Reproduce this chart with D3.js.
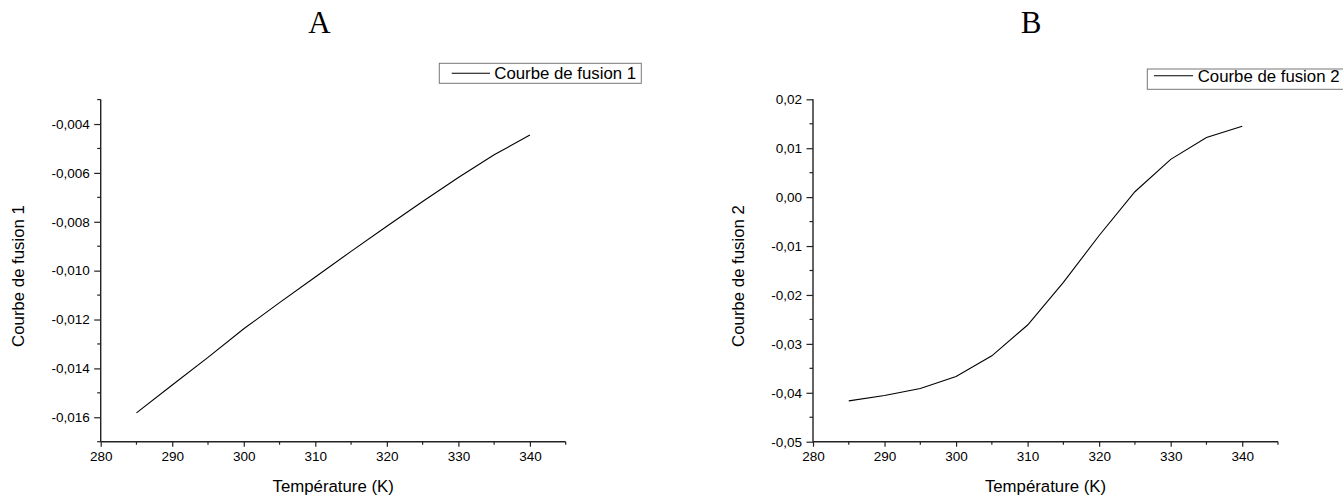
<!DOCTYPE html>
<html>
<head>
<meta charset="utf-8">
<script src="https://cdn.jsdelivr.net/npm/d3@7"></script>
<style>
  html, body { margin: 0; padding: 0; background: #fff; }
  svg { display: block; }
  text { font-family: "Liberation Sans", Arial, sans-serif; fill: #000; }
</style>
</head>
<body>
<svg id="chart" width="1343" height="495"></svg>
<script>
// ---- Data ----
const temperatures = [285, 290, 295, 300, 305, 310, 315, 320, 325, 330, 335, 340];
const courbe1 = [-0.01582, -0.01468, -0.01355, -0.01238, -0.01131, -0.01026, -0.00921, -0.00818, -0.00717, -0.00619, -0.00526, -0.00445];
const courbe2 = [-0.04166, -0.04057, -0.03913, -0.03668, -0.03244, -0.02615, -0.01742, -0.00785, 0.0011, 0.00772, 0.01217, 0.01449];
const xTicks = [280, 290, 300, 310, 320, 330, 340];
const yTicks1 = [-0.016, -0.014, -0.012, -0.010, -0.008, -0.006, -0.004];
const yTicks2 = [-0.05, -0.04, -0.03, -0.02, -0.01, 0.00, 0.01, 0.02];
const panelTitles = ["A", "B"];
const seriesNames = ["Courbe de fusion 1", "Courbe de fusion 2"];
const xTitle = "Température (K)";

const svg = d3.select("#chart");
const axisColor = "#222";

function fmt(decimals) {
  return v => {
    const s = Math.abs(v).toFixed(decimals).replace(".", ",");
    return (v < -1e-12 ? "-" : "") + s;
  };
}

const panels = [
  {
    title: panelTitles[0], titleX: 319.5,
    x0: 100.7, x1: 565.7, yTop: 99.6, yBot: 441.7,
    yDomain: [-0.017, -0.003], yTicks: yTicks1, yMinorStep: 0.001, yFmt: fmt(3),
    values: courbe1, name: seriesNames[0], yTitleX: 18.3,
    legend: { x: 439.3, y: 63.3, w: 202, h: 20, lx0: 451.7, lx1: 490, ly: 73.3, tx: 494.3, ty: 78.6 }
  },
  {
    title: panelTitles[1], titleX: 1031,
    x0: 813.0, x1: 1278.0, yTop: 99.3, yBot: 441.7,
    yDomain: [-0.05, 0.02], yTicks: yTicks2, yMinorStep: 0.005, yFmt: fmt(2),
    values: courbe2, name: seriesNames[1], yTitleX: 738.3,
    legend: { x: 1147.3, y: 69, w: 205, h: 20.3, lx0: 1154, lx1: 1193, ly: 75.7, tx: 1197.7, ty: 81.5 }
  }
];

panels.forEach(p => {
  const g = svg.append("g");
  const x = d3.scaleLinear().domain([280, 345]).range([p.x0, p.x1]);
  const y = d3.scaleLinear().domain(p.yDomain).range([p.yBot, p.yTop]);

  // Title
  g.append("text")
    .attr("x", p.titleX).attr("y", 33.3)
    .attr("text-anchor", "middle")
    .style("font-family", "'Liberation Serif', 'DejaVu Serif', serif")
    .style("font-size", "31px")
    .text(p.title);

  // X axis
  const xMinor = d3.range(285, 346, 10);
  const xAxis = d3.axisBottom(x).tickValues(xTicks).tickSize(5).tickPadding(5).tickFormat(d3.format("d"));
  const gx = g.append("g").attr("transform", `translate(0,${p.yBot})`).call(xAxis);
  gx.select(".domain").attr("stroke", axisColor).attr("stroke-width", 1.4).attr("d", `M${p.x0},0H${p.x1}`);
  gx.selectAll(".tick line").attr("stroke", axisColor).attr("stroke-width", 1.2);
  gx.selectAll(".tick text").style("font-size", "13.5px").attr("dy", "0.71em");
  gx.selectAll(".minor").data(xMinor).enter().append("line")
    .attr("x1", d => x(d)).attr("x2", d => x(d)).attr("y1", 0).attr("y2", 3)
    .attr("stroke", axisColor).attr("stroke-width", 1.2);

  // Y axis
  const [ylo, yhi] = p.yDomain;
  const yMinor = [];
  for (let v = ylo; v <= yhi + 1e-9; v += p.yMinorStep) {
    const r = Math.round(v / p.yMinorStep);
    const isMajor = p.yTicks.some(t => Math.abs(t - v) < 1e-9);
    if (!isMajor) yMinor.push(r * p.yMinorStep);
  }
  const yAxis = d3.axisLeft(y).tickValues(p.yTicks).tickSize(6.5).tickPadding(4.5).tickFormat(p.yFmt);
  const gy = g.append("g").attr("transform", `translate(${p.x0},0)`).call(yAxis);
  gy.select(".domain").attr("stroke", axisColor).attr("stroke-width", 1.4).attr("d", `M0,${p.yBot}V${p.yTop}`);
  gy.selectAll(".tick line").attr("stroke", axisColor).attr("stroke-width", 1.2);
  gy.selectAll(".tick text").style("font-size", "13.5px");
  gy.selectAll(".minor").data(yMinor).enter().append("line")
    .attr("x1", 0).attr("x2", -3.5).attr("y1", d => y(d)).attr("y2", d => y(d))
    .attr("stroke", axisColor).attr("stroke-width", 1.2);

  // Axis titles
  g.append("text")
    .attr("x", (p.x0 + p.x1) / 2).attr("y", 492.3)
    .attr("text-anchor", "middle").style("font-size", "16.8px")
    .text(xTitle);
  g.append("text")
    .attr("transform", `translate(${p.yTitleX + 6},276) rotate(-90)`)
    .attr("text-anchor", "middle").style("font-size", "16.8px")
    .text(p.name);

  // Line
  const line = d3.line().x((d, i) => x(temperatures[i])).y(d => y(d));
  g.append("path").datum(p.values)
    .attr("d", line).attr("fill", "none").attr("stroke", "#000").attr("stroke-width", 1.1);

  // Legend
  const L = p.legend;
  g.append("rect").attr("x", L.x).attr("y", L.y).attr("width", L.w).attr("height", L.h)
    .attr("fill", "#fff").attr("stroke", "#777").attr("stroke-width", 1);
  g.append("line").attr("x1", L.lx0).attr("x2", L.lx1).attr("y1", L.ly).attr("y2", L.ly)
    .attr("stroke", "#000").attr("stroke-width", 1.1);
  g.append("text").attr("x", L.tx).attr("y", L.ty).style("font-size", "16.8px").text(p.name);
});
</script>
</body>
</html>
